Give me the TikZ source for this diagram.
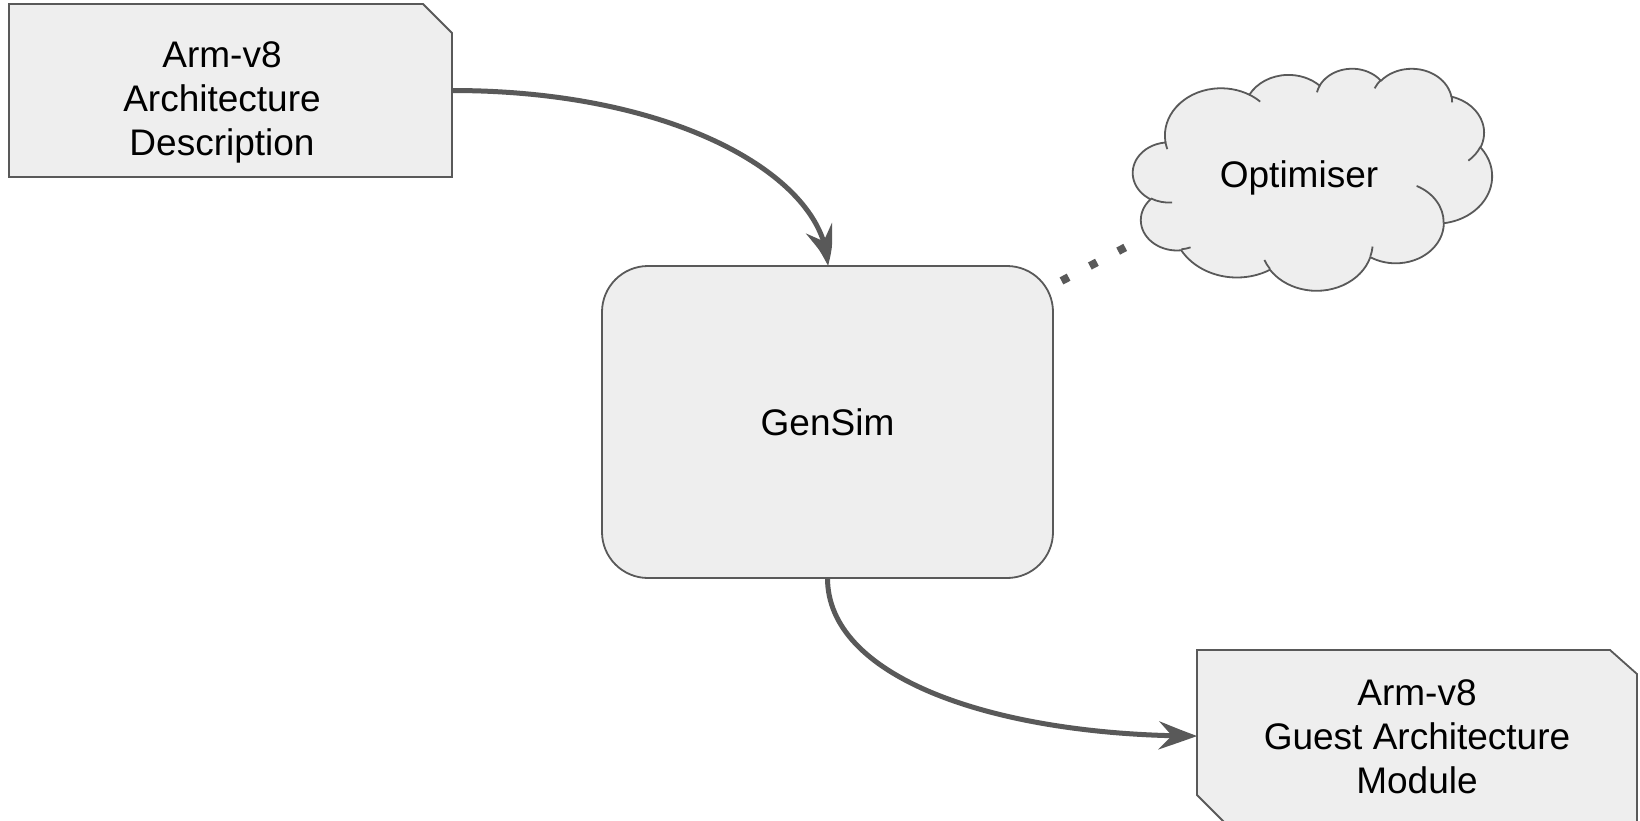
\documentclass[tikz,border=0pt]{standalone}
\usepackage{fontspec}
\setmainfont{Liberation Sans}
\usetikzlibrary{arrows.meta,bending}
\definecolor{lc}{HTML}{595959}
\definecolor{fc}{HTML}{EEEEEE}
\newcommand\cldcorr[3]{(atan2((#1)*sin(#3),(#2)*cos(#3))-(#3)-360*round((atan2((#1)*sin(#3),(#2)*cos(#3))-(#3))/360))}
\newcommand\cldarc[4]{arc[x radius=#1, y radius=#2, start angle={#3+\cldcorr{#1}{#2}{#3}}, delta angle={#4+\cldcorr{#1}{#2}{#3+#4}-\cldcorr{#1}{#2}{#3}}]}
\begin{document}
\begin{tikzpicture}[x=1pt,y=-1pt,
  every node/.style={font=\fontsize{37}{44}\selectfont, text=black, inner sep=0pt, outer sep=0pt},
  shapebox/.style={draw=lc, fill=fc, line width=1.8pt},
  conn/.style={draw=lc, line width=5pt, -{Stealth[length=38pt,width=28pt,inset=13pt,bend]}},
  txt/.style={align=center}]
\useasboundingbox (0,0) rectangle (1640,820);
\clip (0,0) rectangle (1640,820);
% top-left box (chamfered top-right corner)
\node[minimum width=443pt, minimum height=173pt] (arch) at (230.5,90.5) {};
\filldraw[shapebox] (arch.north west) -- ([xshift=-29pt]arch.north east) -- ([yshift=-29pt]arch.north east)
  -- (arch.south east) -- (arch.south west) -- cycle;
\node[txt] (archtxt) at (222,102.5) {Arm-v8\\Architecture\\Description};
% GenSim
\node[shapebox, rounded corners=46pt, minimum width=451pt, minimum height=312pt] (gensim) at (827.5,422) {GenSim};
% bottom-right box (chamfered top-right and bottom-left corners)
\node[minimum width=440pt, minimum height=172pt] (guest) at (1417,736) {};
\filldraw[shapebox] (guest.north west) -- ([xshift=-27pt]guest.north east) -- ([yshift=-24pt]guest.north east)
  -- (guest.south east) -- ([xshift=27pt]guest.south west) -- ([yshift=27pt]guest.south west) -- cycle;
\node[txt] (guesttxt) at (1417,736.5) {Arm-v8\\Guest Architecture\\Module};
% cloud
\begin{scope}[shift={(1133,68)}, xscale=0.83102, yscale=0.51389]
\filldraw[shapebox] (39,143.7)
 \cldarc{67.53}{91.90}{-190.4875}{123.7805}
 \cldarc{53.33}{72.67}{-144.1024}{89.9452}
 \cldarc{43.65}{59.45}{-145.8079}{99.7230}
 \cldarc{48.57}{65.95}{-130.9861}{117.2417}
 \cldarc{53.33}{72.73}{-78.7089}{109.0269}
 \cldarc{67.75}{92.20}{-46.2673}{130.2690}
 \cldarc{57.85}{78.67}{0.6250}{114.0333}
 \cldarc{67.52}{92.15}{22.4516}{115.1726}
 \cldarc{77.20}{105.43}{66.2426}{75.7110}
 \cldarc{43.60}{59.18}{-274.9421}{146.7356}
 \cldarc{43.45}{59.45}{-246.8285}{152.5189}
 -- cycle;
\draw[draw=lc, line width=1.8pt] (46.93,261.77) \cldarc{43.45}{59.45}{86.742}{26.4295}
 (69.28,348.99) \cldarc{43.60}{59.18}{73.6105}{11.4475}
 (164.78,390.90) \cldarc{67.52}{92.15}{137.6242}{14.0811}
 (288.27,347.51) \cldarc{67.52}{92.15}{6.4533}{15.9984}
 (341.29,229.54) \cldarc{57.85}{78.67}{-70.2924}{70.9174}
 (417.98,153.54) \cldarc{53.33}{72.73}{30.3180}{27.7515}
 (383.24,54.26) \cldarc{48.57}{65.95}{-13.7443}{14.8589}
 (290.78,39.52) \cldarc{48.57}{65.95}{-149.1815}{18.1954}
 (221.41,47.20) \cldarc{43.65}{59.45}{-163.4943}{17.6864}
 (140.00,51.92) \cldarc{67.53}{91.90}{-66.7070}{12.3194}
 (41.27,157.89) \cldarc{67.53}{91.90}{157.6544}{11.8582};
\end{scope}
\node (opt) at (1299,178.3) {Optimiser};
% dotted link
\coordinate (dotA) at (1061.5,280.9);
\coordinate (dotB) at (1125.2,247.4);
\draw[lc, line width=8pt, dash pattern=on 8pt off 24pt] (dotA) -- (dotB);
% arrows
\draw[conn] (arch.east) .. controls +(228,0) and +(0,-86) .. (gensim.north);
\draw[conn] (gensim.south) .. controls +(0,102) and +(-197,0) .. (guest.west);
\end{tikzpicture}
\end{document}
